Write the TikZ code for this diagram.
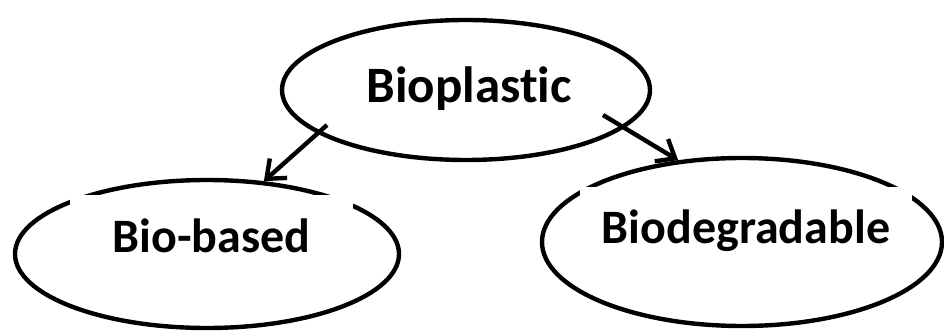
\documentclass[tikz,border=0pt]{standalone}
\usepackage{fontspec}
\setmainfont{Carlito}[Ligatures={NoCommon}]
\usetikzlibrary{shapes.geometric,arrows.meta}
\begin{document}
\begin{tikzpicture}[x=1pt,y=-1pt,
  oval/.style={ellipse,draw=black,line width=4.4pt,inner sep=0pt},
  caption/.style={font=\fontsize{48}{52}\selectfont\bfseries,text=black},
  cover/.style={caption,fill=white,inner xsep=0pt,inner ysep=0pt,anchor=north,text depth=20pt},
  link/.style={line width=4.4pt,-{Straight Barb[length=16pt,width=26pt,line width=4.4pt]}}]
\useasboundingbox (0,0) rectangle (944,331);

% the three ovals
\node[oval,minimum width=368pt,minimum height=140pt] (top) at (466,90) {};
\node[oval,minimum width=384pt,minimum height=148pt] (based) at (207,254) {};
\node[oval,minimum width=400pt,minimum height=168pt] (degr) at (742,242) {};

% captions; the lower two sit on white boxes that cut the ovals' upper rims
\node[caption,font=\fontsize{51}{55}\selectfont\bfseries,anchor=base] (toptxt) at (469,103) {Bioplastic};
\node[cover,minimum width=283pt,text height=57pt,minimum height=77pt] (basedtxt) at (211.5,195) {Bio-based};
\node[cover,minimum width=332pt,text height=56pt,minimum height=76pt] (degrtxt) at (746,187) {Biodegradable};

% arrows
\coordinate (s1) at (327,125);
\coordinate (s2) at (603,115);
\draw[link] (s1) -- (based.52.6);
\draw[link] (s2) -- (degr.128.8);
\end{tikzpicture}
\end{document}
